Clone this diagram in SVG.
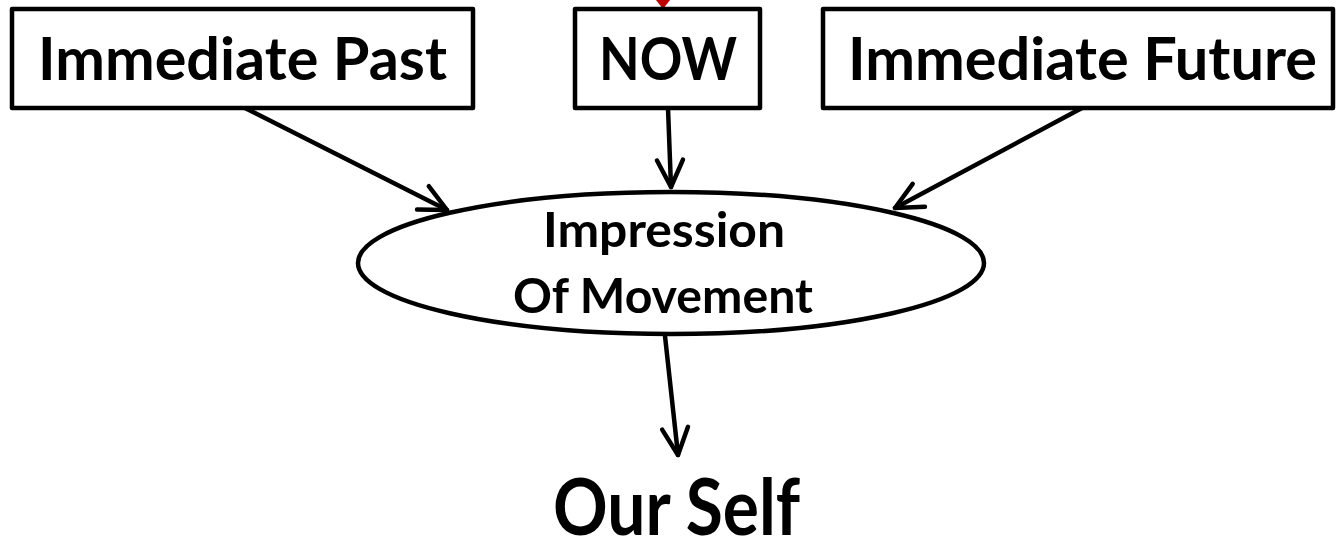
<svg xmlns="http://www.w3.org/2000/svg" width="1336" height="541" viewBox="0 0 1336 541">
<defs>
<style>
.box{fill:#fff;stroke:#000;stroke-width:4.5;stroke-linejoin:round}
.t{font-family:Lato,"Open Sans","Liberation Sans",sans-serif;font-weight:bold;fill:#000}
.c{fill:none;stroke:#000;stroke-width:4.5;stroke-linecap:round}
</style>
<marker id="ah" markerUnits="userSpaceOnUse" markerWidth="40" markerHeight="40" viewBox="-32 -20 40 40" refX="0" refY="0" orient="auto">
<path d="M-27,-13 L0,0 L-27,13" fill="none" stroke="#000" stroke-width="4.5" stroke-linecap="round" stroke-linejoin="round"/>
</marker>
</defs>
<rect width="1336" height="541" fill="#fff"/>
<polygon points="656,0 670,0 663,9" fill="#c00000"/>
<g id="connectors">
<line class="c" x1="245" y1="108" x2="447" y2="210" marker-end="url(#ah)"/>
<line class="c" x1="668" y1="108" x2="671" y2="187" marker-end="url(#ah)"/>
<line class="c" x1="1082" y1="108" x2="895" y2="208" marker-end="url(#ah)"/>
<line class="c" x1="665" y1="336" x2="678" y2="455" marker-end="url(#ah)"/>
</g>
<g id="past">
<rect class="box" x="12" y="9" width="461" height="99"/>
<text class="t" x="38" y="80" font-size="60" textLength="409" lengthAdjust="spacingAndGlyphs">Immediate Past</text>
</g>
<g id="now">
<rect class="box" x="575" y="9" width="185" height="99"/>
<text class="t" x="599" y="80" font-size="60" textLength="138" lengthAdjust="spacingAndGlyphs">NOW</text>
</g>
<g id="future">
<rect class="box" x="823" y="9" width="510" height="99"/>
<text class="t" x="848" y="80" font-size="60" textLength="469" lengthAdjust="spacingAndGlyphs">Immediate Future</text>
</g>
<g id="impression">
<ellipse class="box" cx="671" cy="263" rx="313" ry="71"/>
<text class="t" x="543" y="247" font-size="48" textLength="242" lengthAdjust="spacingAndGlyphs">Impression</text>
<text class="t" x="513" y="313" font-size="48" textLength="300" lengthAdjust="spacingAndGlyphs">Of Movement</text>
</g>
<g id="self">
<text class="t" x="553" y="535" font-size="79" textLength="247" lengthAdjust="spacingAndGlyphs">Our Self</text>
</g>
</svg>
